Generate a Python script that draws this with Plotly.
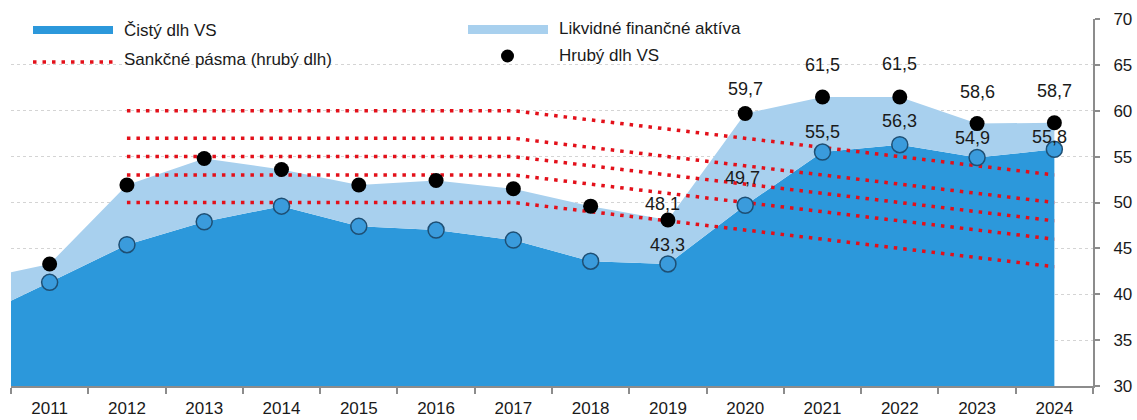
import plotly.graph_objects as go

# ---------------- data ----------------
years = [2010, 2011, 2012, 2013, 2014, 2015, 2016, 2017, 2018, 2019, 2020, 2021, 2022, 2023, 2024]
gross_debt = [41.5, 43.3, 51.9, 54.8, 53.6, 51.9, 52.4, 51.5, 49.6, 48.1, 59.7, 61.5, 61.5, 58.6, 58.7]
net_debt = [37.3, 41.3, 45.4, 47.9, 49.6, 47.4, 47.0, 45.9, 43.6, 43.3, 49.7, 55.5, 56.3, 54.9, 55.8]
marker_years = years[1:]
gross_markers = gross_debt[1:]
net_markers = net_debt[1:]

sanction_years = [2012, 2017, 2024]
sanction_bands = [
    [60, 60, 53],
    [57, 57, 50],
    [55, 55, 48],
    [53, 53, 46],
    [50, 50, 43],
]

labeled_years = [2019, 2020, 2021, 2022, 2023, 2024]
x_tick_labels = [str(y) for y in marker_years]
y_ticks = [30, 35, 40, 45, 50, 55, 60, 65, 70]

legend_names = ["Čistý dlh VS", "Likvidné finančné aktíva", "Sankčné pásma (hrubý dlh)", "Hrubý dlh VS"]

# ---------------- styles ----------------
DARK = "#2C98DB"
LIGHT = "#A8D0EE"
RED = "#E3101A"
FONT = "Liberation Sans, Arial, sans-serif"
TXT = "#1a1a1a"
AX = "#8c8c8c"
W, H = 1137, 420
L, R, T, B = 11, 1093, 19, 386  # plot area in window pixels

# label offsets (px) per labeled year: (xshift, yshift)
gross_label_shift = {2019: (-5, 16), 2020: (0, 25), 2021: (0, 32), 2022: (0, 33), 2023: (0, 32), 2024: (0, 32)}
net_label_shift = {2019: (0, 19), 2020: (-3, 27), 2021: (0, 20), 2022: (0, 24), 2023: (-5, 20), 2024: (-5, 12)}

fig = go.Figure()

fig.add_trace(go.Scatter(x=years, y=net_debt, mode="lines", line=dict(width=0, color=DARK),
                         fill="tozeroy", fillcolor=DARK, name=legend_names[0], showlegend=False,
                         hoverinfo="skip"))
fig.add_trace(go.Scatter(x=years, y=gross_debt, mode="lines", line=dict(width=0, color=LIGHT),
                         fill="tonexty", fillcolor=LIGHT, name=legend_names[1], showlegend=False,
                         hoverinfo="skip"))

for band in sanction_bands:
    fig.add_trace(go.Scatter(x=sanction_years, y=band, mode="lines",
                             line=dict(color=RED, width=3.5, dash="3.5px,6px"),
                             name=legend_names[2], showlegend=False))

fig.add_trace(go.Scatter(x=marker_years, y=gross_markers, mode="markers",
                         marker=dict(size=15, color="#000000"),
                         name=legend_names[3], showlegend=False))
fig.add_trace(go.Scatter(x=marker_years, y=net_markers, mode="markers",
                         marker=dict(size=16, color="#3A9BDC", line=dict(color="#1E4F74", width=1.5)),
                         name="Čistý dlh VS (body)", showlegend=False))

def fmt(v):
    return f"{v:.1f}".replace(".", ",")

ann = []
for yr in labeled_years:
    i = marker_years.index(yr)
    xs, ys = gross_label_shift[yr]
    ann.append(dict(x=yr, y=gross_markers[i], text=fmt(gross_markers[i]), showarrow=False,
                    xshift=xs, yshift=ys, font=dict(size=18, color=TXT, family=FONT)))
    xs, ys = net_label_shift[yr]
    ann.append(dict(x=yr, y=net_markers[i], text=fmt(net_markers[i]), showarrow=False,
                    xshift=xs, yshift=ys, font=dict(size=18, color=TXT, family=FONT)))

# ---------------- manual legend ----------------
def px(x):
    return (x - L) / (R - L)

def py(y):
    return (B - y) / (B - T)

shapes = [
    dict(type="rect", xref="paper", yref="paper", x0=px(33), x1=px(113), y0=py(34), y1=py(26),
         fillcolor=DARK, line=dict(width=0)),
    dict(type="rect", xref="paper", yref="paper", x0=px(468), x1=px(548), y0=py(34), y1=py(25),
         fillcolor=LIGHT, line=dict(width=0)),
    dict(type="line", xref="paper", yref="paper", x0=px(33), x1=px(113), y0=py(62), y1=py(62),
         line=dict(color=RED, width=3.5, dash="3.5px,6px")),
    dict(type="circle", xref="paper", yref="paper", x0=px(501), x1=px(514), y0=py(62.5), y1=py(49.5),
         fillcolor="#000000", line=dict(width=0)),
]
legend_pos = [(122, 30), (557, 29), (122, 59), (557, 55)]
for name, (lx, ly) in zip(legend_names, legend_pos):
    ann.append(dict(x=px(lx), y=py(ly), xref="paper", yref="paper", text=name, showarrow=False,
                    xanchor="left", yanchor="middle", font=dict(size=17, color=TXT, family=FONT)))

fig.update_layout(
    width=W, height=H,
    margin=dict(l=L, r=W - R, t=T, b=H - B, autoexpand=False),
    paper_bgcolor="white", plot_bgcolor="white",
    showlegend=False,
    annotations=ann, shapes=shapes,
    font=dict(family=FONT, color=TXT, size=17),
)
fig.update_xaxes(
    range=[2010.5, 2024.5], tickmode="array", tickvals=marker_years, ticktext=x_tick_labels,
    ticks="", showgrid=False, zeroline=False, showline=True, linecolor=AX, linewidth=2,
    automargin=False,
    tickfont=dict(size=17, color=TXT, family=FONT), ticklabelstandoff=6,
    minor=dict(tickmode="linear", tick0=2010.5, dtick=1, ticks="outside", ticklen=6,
               tickcolor=AX, tickwidth=2, showgrid=False),
)
fig.update_yaxes(
    range=[30, 70], tickmode="array", tickvals=y_ticks, side="right",
    ticks="outside", ticklen=5, tickcolor=AX, tickwidth=2,
    showline=True, linecolor=AX, linewidth=2, zeroline=False, automargin=False,
    showgrid=True, gridcolor="#d4d4d4", gridwidth=1, griddash="dot",
    tickfont=dict(size=17, color=TXT, family=FONT), ticklabelstandoff=10,
)

# remove the browser's default 8px body margin so the figure sits at the window origin
fig.write_html("out.html", config={"displayModeBar": False},
               post_script="document.body.style.margin='0px';")
